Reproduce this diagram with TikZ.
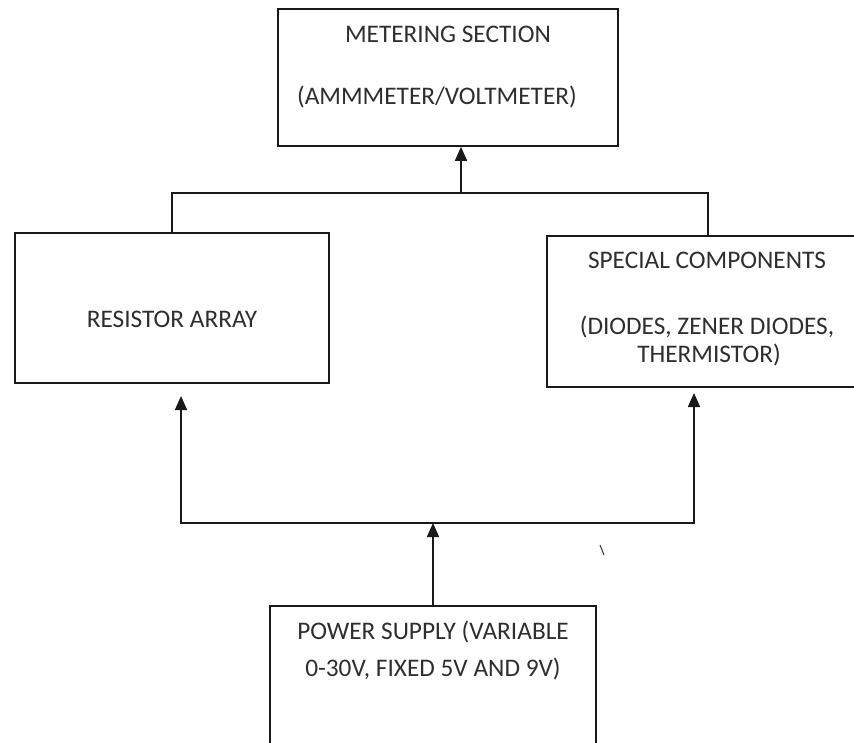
\documentclass[tikz,border=0pt]{standalone}
\usepackage{fontspec}
\setmainfont{Carlito}
\usetikzlibrary{arrows.meta}
\colorlet{colorLine}{black!90}
\colorlet{colorText}{black!82}
\tikzset{
   box/.style={draw=colorLine,line width=1.6pt,inner sep=0pt,rectangle},
   lbl/.style={anchor=base,inner sep=0pt,text=colorText,font=\fontsize{25.3}{29}\selectfont},
   wire/.style={draw=colorLine,line width=1.6pt},
   arr/.style={wire,-{Triangle[width=12pt,length=14pt]}},
   arrs/.style={wire,{Triangle[width=12pt,length=14pt]}-{Triangle[width=12pt,length=14pt]}},
}

\begin{document}
\begin{tikzpicture}[x=1pt,y=-1pt]

        \clip (0,0) rectangle (854,742);

        \node[box,minimum width=340pt,minimum height=137pt] (meter) at (448, 77.5) {};
        \node[box,minimum width=314pt,minimum height=150pt] (resist) at (172, 308) {};
        \node[box,minimum width=322pt,minimum height=151pt] (special) at (708, 311.5) {};
        \node[box,minimum width=326pt,minimum height=174pt] (power) at (433, 693) {};

        \node[lbl] (meter1) at (448, 42) {METERING SECTION};
        \node[lbl] (meter2) at (437, 104) {(AMMMETER/VOLTMETER)};

        \node[lbl] (resist1) at (172, 327) {RESISTOR ARRAY};

        \node[lbl] (special1) at (707, 268) {SPECIAL COMPONENTS};
        \node[lbl] (special2) at (707, 334) {(DIODES, ZENER DIODES,};
        \node[lbl] (special3) at (709, 362) {THERMISTOR)};

        \node[lbl] (power1) at (433, 639) {POWER SUPPLY (VARIABLE};
        \node[lbl] (power2) at (433, 676) {0-30V, FIXED 5V AND 9V)};

        \coordinate (topbus) at (461, 193);
        \coordinate (lowbus) at (433, 523);
        \coordinate (rtip) at (181, 396);
        \coordinate (stip) at (694, 393);

        \draw[wire] (resist.north) |- (topbus) -| (special.north);
        \draw[arr] (topbus) -- (topbus |- meter.south);

        \draw[arr] (power.north) -- (lowbus);
        \draw[arrs] (rtip) |- (lowbus) -| (stip);

        \draw[colorText,line width=1pt] (600, 545) -- (604, 555);

      \end{tikzpicture}
\end{document}
